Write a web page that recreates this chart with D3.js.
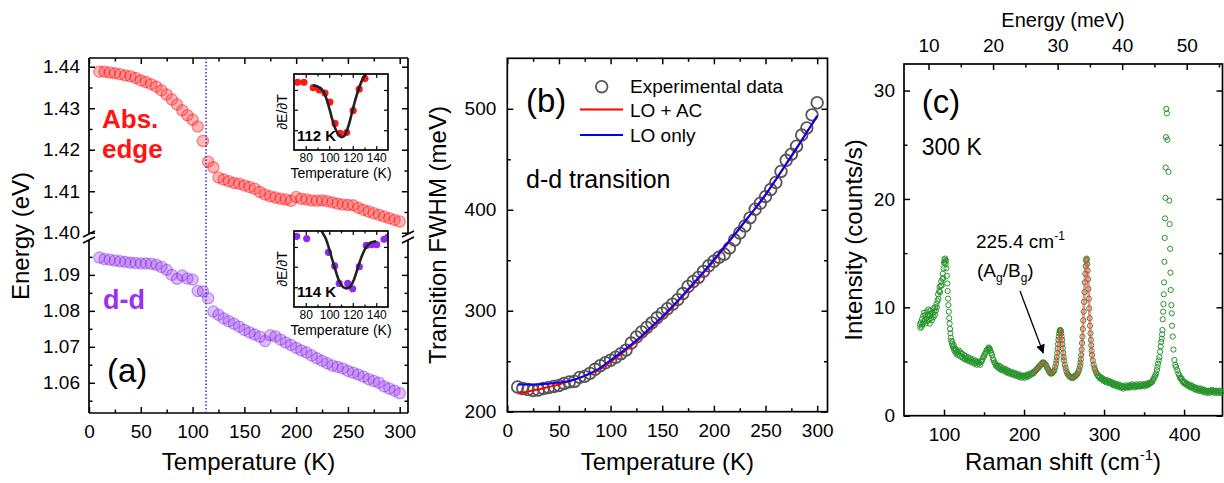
<!DOCTYPE html>
<html><head><meta charset="utf-8">
<script src="https://cdn.jsdelivr.net/npm/d3@7"></script>
<style>body{margin:0;background:#fff}svg{display:block}</style>
</head><body><svg id="c" width="1224" height="483"></svg>
<script>
// ---------------- DATA ----------------
// Panel (a)
const tempA = [10,15,20,25,30,35,40,45,50,55,60,65,70,75,80,85,90,95,100,105,110,115,120,125,130,135,140,145,150,155,160,165,170,175,180,185,190,195,200,205,210,215,220,225,230,235,240,245,250,255,260,265,270,275,280,285,290,295,300];
const absEdge = [1.4388,1.4388,1.4386,1.4384,1.4382,1.4379,1.4377,1.4373,1.4367,1.4363,1.4358,1.4352,1.4343,1.4333,1.4321,1.4309,1.4295,1.4283,1.4272,1.4256,1.4221,1.4171,1.4158,1.4133,1.4128,1.4124,1.4120,1.4118,1.4114,1.4110,1.4106,1.4098,1.4092,1.4088,1.4085,1.4082,1.4080,1.4077,1.4086,1.4082,1.4080,1.4078,1.4077,1.4078,1.4076,1.4073,1.4070,1.4068,1.4067,1.4066,1.4060,1.4055,1.4051,1.4047,1.4043,1.4039,1.4035,1.4031,1.4027];
const ddEnergy = [1.0948,1.0944,1.0942,1.0940,1.0938,1.0936,1.0934,1.0933,1.0932,1.0932,1.0931,1.0928,1.0922,1.0914,1.0900,1.0889,1.0898,1.0890,1.0887,1.0855,1.0854,1.0835,1.0798,1.0789,1.0779,1.0771,1.0764,1.0756,1.0747,1.0740,1.0734,1.0728,1.0716,1.0732,1.0729,1.0720,1.0712,1.0705,1.0697,1.0690,1.0684,1.0676,1.0668,1.0661,1.0654,1.0648,1.0644,1.0640,1.0633,1.0628,1.0623,1.0617,1.0610,1.0605,1.0600,1.0590,1.0584,1.0578,1.0571];
const transitionT = 113;
const ticksA = [0,50,100,150,200,250,300];
const ticksAupper = [1.40,1.41,1.42,1.43,1.44];
const ticksAlower = [1.06,1.07,1.08,1.09];
// insets (derivative, arbitrary units)
const insAbsT = [73.1,78.5,86.4,91.5,96.4,100.6,104.9,109.1,114.8,120.4,125.5,130.4];
const insAbsV = [0.89,0.89,0.82,0.79,0.75,0.63,0.35,0.22,0.23,0.52,0.80,0.94];
const insAbsFitT = [86,90,94,97,100,103,106,109,111,113,116,119,122,125,128,131,133];
const insAbsFitV = [0.85,0.835,0.79,0.70,0.55,0.38,0.25,0.18,0.17,0.19,0.30,0.47,0.65,0.80,0.92,1.0,1.06];
const insDdT = [72.3,80.8,99.3,104.6,108.5,115.7,119.9,125.6,131.5,136.0,140.4,146.6,150];
const insDdV = [0.93,0.90,0.72,0.54,0.31,0.31,0.24,0.53,0.81,0.82,0.82,0.89,0.92];
const insDdFitT = [91,93.5,97,100,103,106,109,112,115,118,121,124,127,130,133,136,140];
const insDdFitV = [1.1,1.0,0.90,0.76,0.60,0.45,0.32,0.26,0.245,0.27,0.36,0.50,0.64,0.75,0.82,0.85,0.865];
const insTicks = [80,100,120,140];

// Panel (b)
const fwhmT = tempA;
const fwhm = [224.5,223,222,221,221.5,223,224,225,226,228,229.5,230,234,235,238,242,245.5,248.5,251,254,257.5,261,268,274,279,283.5,288,293,297.5,302,306.5,311,317,324,329,333,339,344.5,349,353,356,362,370,377,384,392,400.5,406.5,413,420,427,438,449,455,463,474,481,494,506];
const fitT = [10,20,30,40,50,60,70,80,90,100,110,120,130,140,150,160,170,180,190,200,210,220,230,240,250,260,270,280,290,300];
const fitLOAC = [218,220,222,224.5,227,230,233.5,237.5,242.5,249.5,257,265,274,283.5,293,303.5,314.5,326,337.5,349.5,362,375,388,401,414.5,429.5,445,460.5,476.5,492.5];
const fitLO = [227,227,227.2,227.8,228.8,230.5,233.5,238,243.5,251,258.5,266.5,275,284.5,294,304.5,315.5,327,338.5,350.5,363,375.5,388.5,401.5,415,430,445.5,461,477,493];
const ticksB_y = [200,300,400,500];

// Panel (c)  [Raman shift (cm-1), intensity (counts/s)]
const ramanSpectrum = [[70,8.4],[70.5,8.1],[71,8.6],[72,8.2],[72.5,8.9],[73,8.4],[74,9.2],[74.5,8.6],[75,9.5],[76,8.8],[76.5,9.3],[77,8.5],[78,9.0],[78.5,9.6],[79,8.7],[80,9.3],[80.5,9.8],[81,8.9],[82,8.5],[82.5,9.2],[83,9.7],[84,9.0],[84.5,9.4],[85,8.8],[86,9.5],[86.5,9.9],[87,9.1],[88,9.6],[88.5,9.3],[89,10.0],[90,9.7],[90.5,10.3],[91,10.0],[92,10.6],[92.5,11.2],[93,10.8],[94,11.5],[94.5,11.9],[95,11.4],[96,12.0],[96.5,12.4],[97,12.0],[98,12.6],[98.5,13.1],[99,12.7],[99.5,13.6],[100,14.1],[100.5,14.4],[101,14.2],[101.5,14.5],[102,14.0],[102.5,14.3],[103,13.6],[103.5,12.9],[104,12.2],[104.5,11.5],[105,10.8],[105.5,10.2],[106,9.6],[106.5,9.0],[107,8.5],[107.5,8.0],[108,7.6],[108.5,7.2],[109,6.9],[110,6.6],[110.5,6.8],[111,6.4],[112,6.2],[112.5,6.5],[113,6.0],[114,6.2],[114.5,5.8],[115,6.1],[116,5.9],[117,5.6],[117.5,5.9],[118,5.7],[119,6.0],[120,5.5],[121,5.8],[122,5.4],[123,5.7],[124,5.3],[125,5.6],[126,5.2],[127,5.5],[128,5.3],[129,5.1],[130,5.4],[131,5.2],[132,5.0],[133,5.3],[134,5.1],[135,4.9],[136,5.2],[137,5.0],[138,4.8],[139,5.1],[140,4.9],[141,4.7],[142,5.0],[143,4.8],[144,4.9],[145,4.7],[146,5.0],[147,5.0],[148,5.2],[149,5.4],[150,5.5],[151,5.7],[152,5.8],[153,6.0],[154,6.1],[155,6.2],[156,6.3],[156.5,6.1],[157,6.2],[158,6.0],[159,5.8],[160,5.6],[161,5.3],[162,5.1],[163,4.9],[164,4.8],[165,4.6],[166,4.7],[167,4.5],[168,4.4],[169,4.6],[170,4.3],[171,4.5],[172,4.2],[173,4.4],[174,4.2],[175,4.3],[176,4.1],[177,4.3],[178,4.0],[179,4.2],[180,4.1],[181,3.9],[182,4.1],[183,3.9],[184,4.0],[185,3.8],[186,4.0],[187,3.8],[188,3.9],[189,3.7],[190,3.9],[191,3.7],[192,3.8],[193,3.6],[194,3.8],[195,3.6],[196,3.7],[197,3.5],[198,3.7],[199,3.6],[200,3.7],[201,3.5],[202,3.7],[203,3.6],[204,3.8],[205,3.6],[206,3.8],[207,3.7],[208,3.9],[209,3.8],[210,3.9],[211,4.0],[212,3.9],[213,4.1],[214,4.1],[215,4.2],[216,4.3],[217,4.4],[218,4.4],[219,4.6],[220,4.6],[221,4.7],[222,4.8],[223,4.9],[224,4.9],[225,4.9],[226,4.8],[227,4.7],[228,4.6],[229,4.4],[230,4.3],[231,4.1],[232,4.0],[233,3.9],[234,3.9],[235,3.9],[236,4.0],[237,4.1],[238,4.2],[239,4.5],[240,4.8],[240.5,5.1],[241,5.4],[241.5,5.8],[242,6.2],[242.5,6.6],[243,7.0],[243.5,7.3],[244,7.6],[244.5,7.8],[245,7.9],[245.5,7.9],[246,7.8],[246.5,7.6],[247,7.3],[247.5,7.0],[248,6.6],[248.5,6.2],[249,5.8],[249.5,5.4],[250,5.1],[251,4.7],[252,4.4],[253,4.1],[254,3.9],[255,3.8],[256,3.7],[257,3.6],[258,3.6],[259,3.5],[260,3.5],[261,3.6],[262,3.5],[263,3.6],[264,3.7],[265,3.7],[266,3.8],[267,3.9],[268,4.1],[269,4.3],[270,4.6],[270.5,4.9],[271,5.2],[271.5,5.6],[272,6.1],[272.5,6.7],[273,7.3],[273.5,8.0],[274,8.8],[274.5,9.6],[275,10.5],[275.5,11.4],[276,12.3],[276.5,13.1],[277,13.8],[277.5,14.3],[278,14.5],[278.5,14.4],[279,14.0],[279.5,13.4],[280,12.6],[280.5,11.7],[281,10.8],[281.5,9.9],[282,9.0],[282.5,8.3],[283,7.6],[283.5,7.0],[284,6.5],[284.5,6.0],[285,5.6],[286,5.1],[287,4.7],[288,4.4],[289,4.2],[290,4.0],[291,3.9],[292,3.7],[293,3.7],[294,3.5],[295,3.6],[296,3.4],[297,3.5],[298,3.3],[299,3.4],[300,3.2],[301,3.3],[302,3.1],[303,3.3],[304,3.1],[305,3.2],[306,3.0],[307,3.2],[308,3.0],[309,3.1],[310,2.9],[311,3.0],[312,2.8],[313,3.0],[314,2.8],[315,2.9],[316,2.7],[317,2.9],[318,2.7],[319,2.8],[320,2.6],[321,2.8],[322,2.6],[323,2.7],[324,2.5],[325,2.7],[326,2.6],[327,2.8],[328,2.6],[329,2.7],[330,2.6],[331,2.8],[332,2.6],[333,2.8],[334,2.7],[335,2.9],[336,2.7],[337,2.8],[338,2.6],[339,2.8],[340,2.7],[341,2.9],[342,2.7],[343,2.8],[344,2.7],[345,2.9],[346,2.7],[347,2.8],[348,2.8],[349,2.9],[350,2.7],[351,2.9],[352,2.8],[353,2.9],[354,2.8],[355,3.0],[356,2.9],[357,3.0],[358,3.0],[359,3.1],[360,3.1],[361,3.3],[362,3.4],[363,3.6],[364,3.7],[365,3.9],[366,4.2],[366.7,4.5],[367.5,4.8],[368.3,5.1],[369.2,5.4],[370,5.9],[370.8,6.4],[371.4,6.8],[372,7.1],[372.5,7.5],[372.9,7.9],[373.3,8.9],[373.8,9.6],[374.2,10.3],[374.6,11.2],[375,12.3],[375.4,14.2],[375.8,16.4],[376.25,18.2],[376.7,20.1],[377,22.9],[377.4,25.7],[377.8,28.3],[378.5,27.9],[379.2,25.45],[380.5,22.5],[381.5,19.85],[382,17.67],[382.6,15.4],[383,13.2],[383.3,11.6],[384.2,10.2],[384.6,9.45],[385,8.3],[385.8,7.3],[386.7,6.1],[387.9,5.14],[389,4.7],[390,4.5],[391.5,4.2],[392.9,3.9],[394,3.7],[395,3.5],[396,3.4],[397,3.45],[398,3.2],[399,3.1],[400,3.0],[401,3.1],[402,2.9],[403,3.0],[404,2.8],[405,2.9],[406,2.7],[407,2.8],[408,2.6],[409,2.8],[410,2.6],[411,2.7],[412,2.5],[413,2.6],[414,2.4],[415,2.6],[416,2.4],[417,2.5],[418,2.3],[419,2.5],[420,2.3],[421,2.5],[422,2.3],[423,2.4],[424,2.2],[425,2.4],[426,2.2],[427,2.3],[428,2.1],[429,2.3],[430,2.2],[431,2.3],[432,2.1],[433,2.3],[434,2.2],[435,2.4],[436,2.2],[437,2.3],[438,2.1],[439,2.3],[440,2.2],[441,2.3],[442,2.1],[443,2.3],[444,2.2],[445,2.3],[446,2.1],[447,2.2]];
const ramanFit = [[210,3.85],[213,4.0],[216,4.25],[219,4.55],[222,4.8],[224,4.9],[226,4.85],[228,4.6],[230,4.25],[232,3.95],[234,3.85],[236,3.95],[238,4.2],[240,4.8],[241.5,5.6],[243,6.8],[244.5,7.7],[245.5,7.95],[246.5,7.6],[248,6.5],[249.5,5.3],[251,4.6],[253,4.05],[255,3.75],[258,3.55],[261,3.5],[264,3.6],[267,3.9],[269,4.3],[270.5,4.9],[272,6.0],[273,7.2],[274,8.8],[275,10.6],[276,12.4],[277,13.9],[278,14.6],[279,14.1],[280,12.7],[281,10.8],[282,9.0],[283,7.5],[284,6.4],[285,5.6],[287,4.7],[289,4.2],[291,3.9],[292,3.8]];
const ticksC_x = [100,200,300,400];
const ticksC_y = [0,10,20,30];
const ticksC_top = [10,20,30,40,50];
const cmPerMeV = 8.0655;

// ---------------- DRAWING ----------------
const FONT = '"Liberation Sans", Arial, Helvetica, sans-serif';
const svg = d3.select('#c');
svg.append('rect').attr('width',1224).attr('height',483).attr('fill','#fff');

function axis(parent, orient, scale, pos, major, minor, opts={}) {
  const mk = {bottom:d3.axisBottom, top:d3.axisTop, left:d3.axisLeft, right:d3.axisRight}[orient];
  const hor = orient==='bottom'||orient==='top';
  const tr = hor ? `translate(0,${pos})` : `translate(${pos},0)`;
  const size = opts.size||6, msize = opts.msize||3.5;
  const a = mk(scale).tickValues(major).tickSizeInner(-size).tickSizeOuter(0)
    .tickPadding(opts.pad||8).tickFormat(opts.labels ? (opts.fmt||(d=>d)) : '');
  const g = parent.append('g').attr('transform',tr).call(a);
  g.select('.domain').remove();
  g.selectAll('line').attr('stroke','#000').attr('stroke-width',opts.sw||1.5);
  g.selectAll('text').style('font-family',FONT).style('font-size',(opts.fs||19)+'px').attr('fill','#000');
  if (minor && minor.length) {
    const m = parent.append('g').attr('transform',tr)
      .call(mk(scale).tickValues(minor).tickSizeInner(-msize).tickSizeOuter(0).tickFormat(''));
    m.select('.domain').remove();
    m.selectAll('line').attr('stroke','#000').attr('stroke-width',opts.sw||1.5);
  }
  return g;
}
function text(parent, x, y, s, size, o={}) {
  return parent.append('text').attr('x',x).attr('y',y).text(s)
    .style('font-family',FONT).style('font-size',size+'px')
    .attr('fill',o.fill||'#000').attr('font-weight',o.bold?'bold':'normal')
    .attr('text-anchor',o.anchor||'start');
}
function vtext(parent, x, y, s, size) {
  return parent.append('text').attr('transform',`translate(${x},${y}) rotate(-90)`)
    .attr('text-anchor','middle').style('font-family',FONT).style('font-size',size+'px').text(s);
}
function frame(parent, x0, x1, y0, y1, fill) {
  parent.append('rect').attr('x',x0).attr('y',y0).attr('width',x1-x0).attr('height',y1-y0)
    .attr('fill',fill||'none').attr('stroke','#000').attr('stroke-width',1.7);
}

// ===== Panel (a) =====
const gA = svg.append('g');
const A = {x0:89, x1:408, y0:58, y1:413, bTop:234, bBot:240};
const xA = d3.scaleLinear([0,308],[A.x0,A.x1]);
const yUp = d3.scaleLinear([1.3997,1.4421],[A.bTop,A.y0]);
const yLo = d3.scaleLinear([1.0516,1.0997],[A.y1,A.bBot]);

axis(gA,'bottom',xA,A.y1,ticksA,[25,75,125,175,225,275],{labels:true,pad:12});
axis(gA,'top',xA,A.y0,ticksA,[25,75,125,175,225,275],{});
const f2 = d3.format('.2f');
axis(gA,'left',yUp,A.x0,ticksAupper,[1.405,1.415,1.425,1.435],{labels:true,fmt:f2,pad:9});
axis(gA,'left',yLo,A.x0,ticksAlower,[1.055,1.065,1.075,1.085,1.095],{labels:true,fmt:f2,pad:9});
axis(gA,'right',yUp,A.x1,ticksAupper,[1.405,1.415,1.425,1.435],{});
axis(gA,'right',yLo,A.x1,ticksAlower,[1.055,1.065,1.075,1.085,1.095],{});
// frame with axis break
const fr = [[A.x0,A.y0,A.x1,A.y0],[A.x0,A.y1,A.x1,A.y1],[A.x0,A.y0,A.x0,A.bTop],[A.x0,A.bBot,A.x0,A.y1],[A.x1,A.y0,A.x1,A.bTop],[A.x1,A.bBot,A.x1,A.y1]];
fr.forEach(l=>gA.append('line').attr('x1',l[0]).attr('y1',l[1]).attr('x2',l[2]).attr('y2',l[3]).attr('stroke','#000').attr('stroke-width',1.7));
[A.x0,A.x1].forEach(x=>{
  [A.bTop,A.bBot].forEach(y=>{
    gA.append('line').attr('x1',x-6).attr('y1',y+3).attr('x2',x+6).attr('y2',y-3).attr('stroke','#000').attr('stroke-width',1.6);
  });
});
// data
gA.append('g').selectAll('circle').data(tempA).join('circle')
  .attr('cx',(d)=>xA(d)).attr('cy',(d,i)=>yUp(absEdge[i])).attr('r',5.6)
  .attr('fill','rgba(255,60,60,0.36)').attr('stroke','rgba(255,0,0,0.45)').attr('stroke-width',1.3);
gA.append('g').selectAll('circle').data(tempA).join('circle')
  .attr('cx',(d)=>xA(d)).attr('cy',(d,i)=>yLo(ddEnergy[i])).attr('r',5.6)
  .attr('fill','rgba(150,60,240,0.32)').attr('stroke','rgba(130,40,230,0.45)').attr('stroke-width',1.3);
gA.append('line').attr('x1',xA(transitionT)).attr('x2',xA(transitionT)).attr('y1',A.y0).attr('y2',A.y1)
  .attr('stroke','#2a2ad0').attr('stroke-width',1.5).attr('stroke-dasharray','1.5,2');
text(gA,102,128,'Abs.',26,{bold:true,fill:'#ff1414'});
text(gA,102,158,'edge',26,{bold:true,fill:'#ff1414'});
text(gA,103,309,'d-d',27,{bold:true,fill:'#9b30f2'});
text(gA,107,382,'(a)',33);
vtext(gA,29,236,'Energy (eV)',24);
text(gA,(A.x0+A.x1)/2,470,'Temperature (K)',24,{anchor:'middle'});

// insets
function inset(top, tArr, vArr, fT, fV, color, label, labY) {
  const g = svg.append('g');
  const L=294, R=388, B=top+76;
  const x = d3.scaleLinear([70,150],[L,R]);
  const y = d3.scaleLinear([0,1],[B,top]);
  g.append('rect').attr('x',L).attr('y',top).attr('width',R-L).attr('height',B-top).attr('fill','#fff');
  const id = 'clip'+top;
  g.append('clipPath').attr('id',id).append('rect').attr('x',L).attr('y',top).attr('width',R-L).attr('height',B-top);
  const c = g.append('g').attr('clip-path',`url(#${id})`);
  c.selectAll('circle').data(tArr).join('circle').attr('cx',d=>x(d)).attr('cy',(d,i)=>y(vArr[i])).attr('r',3.6).attr('fill',color);
  c.append('path').datum(fT.map((t,i)=>[t,fV[i]])).attr('fill','none').attr('stroke','#222').attr('stroke-width',2.6)
    .attr('d',d3.line().x(d=>x(d[0])).y(d=>y(d[1])).curve(d3.curveCatmullRom));
  axis(g,'bottom',x,B,insTicks,[90,110,130],{labels:true,pad:3,fs:12,size:4,msize:2.5,sw:1.2});
  axis(g,'top',x,top,insTicks,[90,110,130],{size:4,msize:2.5,sw:1.2});
  axis(g,'left',y,L,[0.26,0.53,0.79],[],{size:4,sw:1.2});
  axis(g,'right',y,R,[0.26,0.53,0.79],[],{size:4,sw:1.2});
  frame(g,L,R,top,B);
  text(g,L+3,labY,label,15,{bold:true});
  text(g,(L+R)/2,B+28,'Temperature (K)',14,{anchor:'middle'});
  vtext(g,287,(top+B)/2,'∂E/∂T',14);
}
inset(74, insAbsT, insAbsV, insAbsFitT, insAbsFitV, '#ff1a1a', '112 K', 141);
inset(231, insDdT, insDdV, insDdFitT, insDdFitV, '#8f2bf0', '114 K', 297);

// ===== Panel (b) =====
const gB = svg.append('g');
const Bp = {x0:507.3, x1:827.5, y0:58.3, y1:411.7};
const xB = d3.scaleLinear([0,310],[Bp.x0,Bp.x1]);
const yB = d3.scaleLinear([200,550],[Bp.y1,Bp.y0]);
axis(gB,'bottom',xB,Bp.y1,ticksA,[25,75,125,175,225,275],{labels:true,pad:12});
axis(gB,'top',xB,Bp.y0,ticksA,[25,75,125,175,225,275],{});
axis(gB,'left',yB,Bp.x0,ticksB_y,[250,350,450],{labels:true,pad:11});
axis(gB,'right',yB,Bp.x1,ticksB_y,[250,350,450],{});
frame(gB,Bp.x0,Bp.x1,Bp.y0,Bp.y1);
gB.append('g').selectAll('circle').data(fwhmT).join('circle')
  .attr('cx',d=>xB(d)).attr('cy',(d,i)=>yB(fwhm[i])).attr('r',5.8)
  .attr('fill','none').attr('stroke','#555').attr('stroke-width',1.8);
const lineB = d3.line().x(d=>xB(d[0])).y(d=>yB(d[1])).curve(d3.curveMonotoneX);
gB.append('path').datum(fitT.map((t,i)=>[t,fitLOAC[i]])).attr('d',lineB).attr('fill','none').attr('stroke','#ff0000').attr('stroke-width',2);
gB.append('path').datum(fitT.map((t,i)=>[t,fitLO[i]])).attr('d',lineB).attr('fill','none').attr('stroke','#0000ff').attr('stroke-width',2);
// legend
gB.append('circle').attr('cx',601.7).attr('cy',86.7).attr('r',5.8).attr('fill','none').attr('stroke','#555').attr('stroke-width',1.8);
text(gB,630,93,'Experimental data',19);
gB.append('line').attr('x1',580).attr('x2',623).attr('y1',109.5).attr('y2',109.5).attr('stroke','#ff0000').attr('stroke-width',2);
text(gB,630,116.5,'LO + AC',19);
gB.append('line').attr('x1',580).attr('x2',623).attr('y1',135).attr('y2',135).attr('stroke','#0000ff').attr('stroke-width',2);
text(gB,630,141.5,'LO only',19);
text(gB,526,111.7,'(b)',33);
text(gB,526,188.3,'d-d transition',25);
vtext(gB,445.5,235,'Transition FWHM (meV)',24);
text(gB,(Bp.x0+Bp.x1)/2,470,'Temperature (K)',24,{anchor:'middle'});

// ===== Panel (c) =====
const gC = svg.append('g');
const Cp = {x0:904, x1:1222.5, y0:64, y1:415.7};
const xC = d3.scaleLinear([50,448],[Cp.x0,Cp.x1]);
const yC = d3.scaleLinear([0,32.45],[Cp.y1,Cp.y0]);
const xE = d3.scaleLinear([50/cmPerMeV,448/cmPerMeV],[Cp.x0,Cp.x1]);
axis(gC,'bottom',xC,Cp.y1,ticksC_x,[150,250,350],{labels:true,pad:12});
axis(gC,'top',xE,Cp.y0,ticksC_top,[15,25,35,45,55],{labels:true,pad:12});
axis(gC,'left',yC,Cp.x0,ticksC_y,[5,15,25],{labels:true,pad:9});
axis(gC,'right',yC,Cp.x1,ticksC_y,[5,15,25],{});
frame(gC,Cp.x0,Cp.x1,Cp.y0,Cp.y1);
gC.append('g').selectAll('circle').data(ramanSpectrum).join('circle')
  .attr('cx',d=>xC(d[0])).attr('cy',d=>yC(d[1])).attr('r',2.6)
  .attr('fill','none').attr('stroke','#26942a').attr('stroke-width',1);
gC.append('path').datum(ramanFit).attr('fill','none').attr('stroke','rgba(240,70,70,0.6)').attr('stroke-width',3)
  .attr('d',d3.line().x(d=>xC(d[0])).y(d=>yC(d[1])).curve(d3.curveMonotoneX));
// annotation
const defs = svg.append('defs');
defs.append('marker').attr('id','arr').attr('viewBox','0 0 10 10').attr('refX',9).attr('refY',5)
  .attr('markerWidth',9).attr('markerHeight',9).attr('markerUnits','userSpaceOnUse').attr('orient','auto')
  .append('path').attr('d','M0,0 L10,5 L0,10 Z').attr('fill','#000');
gC.append('line').attr('x1',1020).attr('y1',291).attr('x2',xC(224)).attr('y2',yC(5.8))
  .attr('stroke','#000').attr('stroke-width',1.3).attr('marker-end','url(#arr)');
const t1 = text(gC,976,248,'225.4 cm',19);
t1.append('tspan').attr('dy',-8).style('font-size','12px').text('-1');
const t2 = gC.append('text').attr('x',977).attr('y',277).style('font-family',FONT).style('font-size','19px');
t2.append('tspan').text('(A');
t2.append('tspan').attr('dy',5).style('font-size','12px').text('g');
t2.append('tspan').attr('dy',-5).text('/B');
t2.append('tspan').attr('dy',5).style('font-size','12px').text('g');
t2.append('tspan').attr('dy',-5).text(')');
text(gC,921.7,113.3,'(c)',33);
text(gC,921.7,155,'300 K',23);
vtext(gC,862,240,'Intensity (counts/s)',24);
const t3 = gC.append('text').attr('x',1063).attr('y',470).attr('text-anchor','middle').style('font-family',FONT).style('font-size','24px');
t3.append('tspan').text('Raman shift (cm');
t3.append('tspan').attr('dy',-10).style('font-size','15px').text('-1');
t3.append('tspan').attr('dy',10).text(')');
text(gC,1063,27,'Energy (meV)',20,{anchor:'middle'});
</script></body></html>
